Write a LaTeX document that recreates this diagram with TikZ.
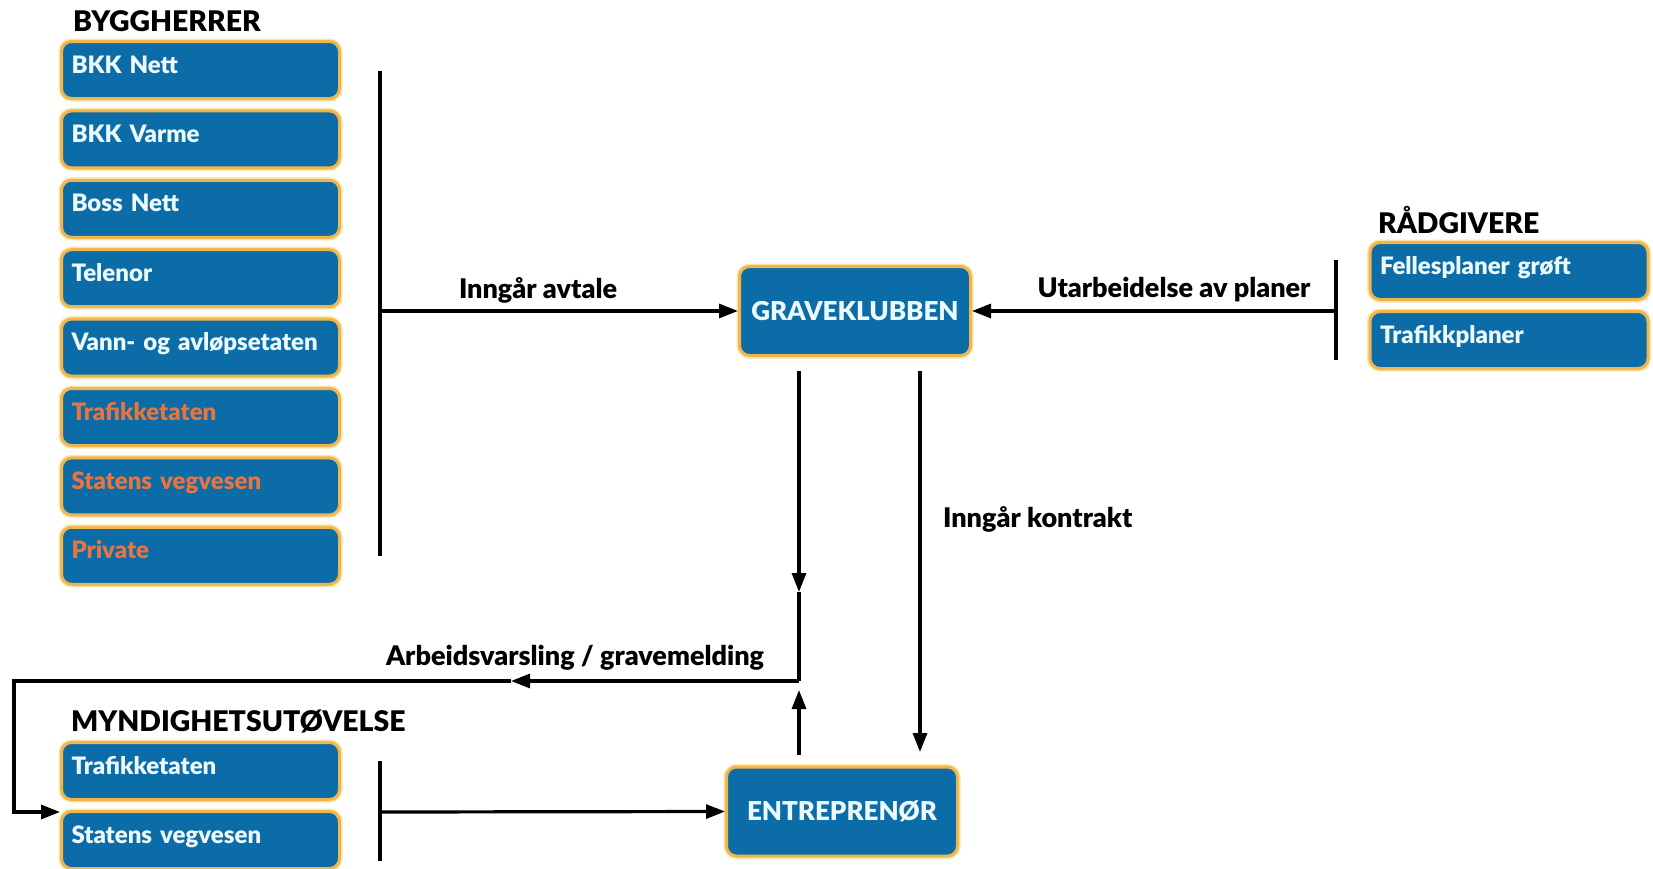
\documentclass[tikz,border=0pt]{standalone}
\usepackage{fontspec}
\setmainfont{Lato}[BoldFont={Lato Black}]
\usetikzlibrary{arrows.meta}

\definecolor{boxblue}{RGB}{12,108,168}
\definecolor{boxgold}{RGB}{240,182,78}
\definecolor{glow}{RGB}{252,228,170}
\definecolor{boxtext}{RGB}{236,250,255}
\definecolor{orangetext}{RGB}{232,116,62}

\begin{document}
\begin{tikzpicture}[x=0.5pt,y=-0.5pt,
  plate/.style={draw=boxgold, line width=1.5pt, fill=boxblue, rounded corners=5pt,
    preaction={draw=glow, line width=3pt}, text=boxtext},
  box/.style={plate, minimum width=139pt, minimum height=28.5pt, text width=129pt,
    align=left, text height=8.5pt, text depth=5.5pt, font=\bfseries\fontsize{12}{14}\selectfont},
  bigbox/.style={plate, minimum width=115.5pt, minimum height=44.5pt,
    font=\bfseries\fontsize{13}{15}\selectfont},
  title/.style={anchor=west, font=\bfseries\fontsize{14.2}{16}\selectfont},
  lbl/.style={font=\bfseries\fontsize{13.5}{15}\selectfont},
  ln/.style={line width=1.6pt},
  arr/.style={ln, -{Triangle[length=9.5pt,width=7pt]}}]

\useasboundingbox (0,0) rectangle (1653,868);

% Byggherrer
\node[title] (tbyg) at (66,21) {BYGGHERRER};
\foreach \txt/\col [count=\i] in {BKK Nett/boxtext, BKK Varme/boxtext, Boss Nett/boxtext,
    Telenor/boxtext, Vann- og avløpsetaten/boxtext, Trafikketaten/orangetext,
    Statens vegvesen/orangetext, Private/orangetext}
  \node[box, text=\col] (byg\i) at (200.5,{70+69.4*(\i-1)}) {\txt};

% Raadgivere
\node[title] (trad) at (1371,220) {RÅDGIVERE};
\node[box] (rad1) at (1509,271) {Fellesplaner grøft};
\node[box] (rad2) at (1509,340) {Trafikkplaner};

% Myndighetsutoevelse
\node[title] (tmyn) at (64,721) {MYNDIGHETSUTØVELSE};
\node[box] (myn1) at (200.5,771) {Trafikketaten};
\node[box] (myn2) at (200.5,840) {Statens vegvesen};

% Main boxes
\node[bigbox] (grave) at (855,311) {GRAVEKLUBBEN};
\node[bigbox] (entre) at (842,811.5) {ENTREPRENØR};

% Bars and bends
\coordinate (bygtop) at (380,71);
\coordinate (bygbot) at (380,556);
\coordinate (bygmid) at (380,311);
\coordinate (radtop) at (1336,260);
\coordinate (radbot) at (1336,360);
\coordinate (radmid) at (1336,311);
\coordinate (myntop) at (380,761);
\coordinate (mynbot) at (380,861);
\coordinate (mynmid) at (380,812);
\coordinate (down1) at (799,371);
\coordinate (down1tip) at (799,592);
\coordinate (junc) at (799,681);
\coordinate (up1) at (799,755);
\coordinate (up1tip) at (799,690);
\coordinate (lefttip) at (511,681);
\coordinate (corner1) at (14,681);
\coordinate (corner2) at (14,812);
\coordinate (down2) at (920,371);
\coordinate (down2tip) at (920,752);

\draw[ln] (bygtop) -- (bygbot);
\draw[ln] (radtop) -- (radbot);
\draw[ln] (myntop) -- (mynbot);

% Arrows
\draw[arr] (bygmid) -- (grave.west);
\draw[arr] (radmid) -- (grave.east);
\draw[arr] (mynmid) -- (entre.west);
\draw[arr] (down1) -- (down1tip);
\draw[ln] (down1tip) -- (junc);
\draw[arr] (up1) -- (up1tip);
\draw[arr] (junc) -- (lefttip);
\draw[arr] (lefttip) -- (corner1) -- (corner2) -- (corner2 -| myn2.west);
\draw[arr] (down2) -- (down2tip);

% Labels
\node[lbl] (lavtale) at (538,290) {Inngår avtale};
\node[lbl] (lplaner) at (1174,290) {Utarbeidelse av planer};
\node[lbl, anchor=west] (lkontrakt) at (936,519) {Inngår kontrakt};
\node[lbl] (lvarsel) at (575,658) {Arbeidsvarsling / gravemelding};

\end{tikzpicture}
\end{document}
